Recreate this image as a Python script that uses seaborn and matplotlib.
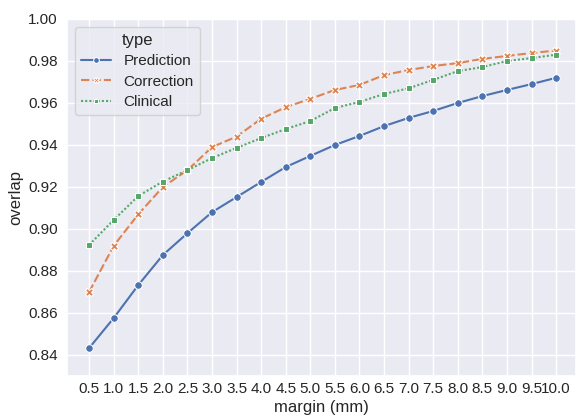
import matplotlib
matplotlib.use("Agg")
import matplotlib.pyplot as plt
import seaborn as sns
import pandas as pd

margins = ["0.5", "1.0", "1.5", "2.0", "2.5", "3.0", "3.5", "4.0", "4.5", "5.0",
           "5.5", "6.0", "6.5", "7.0", "7.5", "8.0", "8.5", "9.0", "9.5", "10.0"]
prediction = [0.8433, 0.8576, 0.8733, 0.8876, 0.8980, 0.9080, 0.9152, 0.9224, 0.9295, 0.9348,
              0.9400, 0.9443, 0.9490, 0.9529, 0.9562, 0.9600, 0.9633, 0.9662, 0.9690, 0.9720]
correction = [0.8700, 0.8920, 0.9070, 0.9200, 0.9280, 0.9390, 0.9440, 0.9525, 0.9580, 0.9620,
              0.9662, 0.9686, 0.9733, 0.9757, 0.9776, 0.9790, 0.9810, 0.9824, 0.9838, 0.9850]
clinical = [0.8924, 0.9043, 0.9157, 0.9226, 0.9280, 0.9338, 0.9386, 0.9433, 0.9476, 0.9514,
            0.9576, 0.9605, 0.9643, 0.9670, 0.9710, 0.9752, 0.9771, 0.9800, 0.9814, 0.9830]
types = ["Prediction", "Correction", "Clinical"]

rows = []
for t, vals in zip(types, [prediction, correction, clinical]):
    for m, v in zip(margins, vals):
        rows.append({"margin (mm)": m, "overlap": v, "type": t})
df = pd.DataFrame(rows)

sns.set_theme()
plt.rcParams["font.family"] = ["Liberation Sans", "DejaVu Sans"]

fig = plt.figure(figsize=(5.76, 4.16), dpi=100)
ax = fig.add_axes([67 / 576, 40 / 416, 509 / 576, 357 / 416])
sns.lineplot(data=df, x="margin (mm)", y="overlap", hue="type", style="type",
             markers=True, markersize=5.5, ax=ax, sort=False)
ax.set_ylim(0.83, 1.0)
ax.set_xlim(-0.9, 19.81)
ax.tick_params(axis="both", length=0)
ax.tick_params(axis="x", pad=4.5)
ax.tick_params(axis="y", pad=6.5)
ax.xaxis.labelpad = 3
ax.legend(title="type", loc="upper left", markerscale=0.75, handlelength=2.0,
          labelspacing=0.42)
fig.savefig("out.png", dpi=100)
